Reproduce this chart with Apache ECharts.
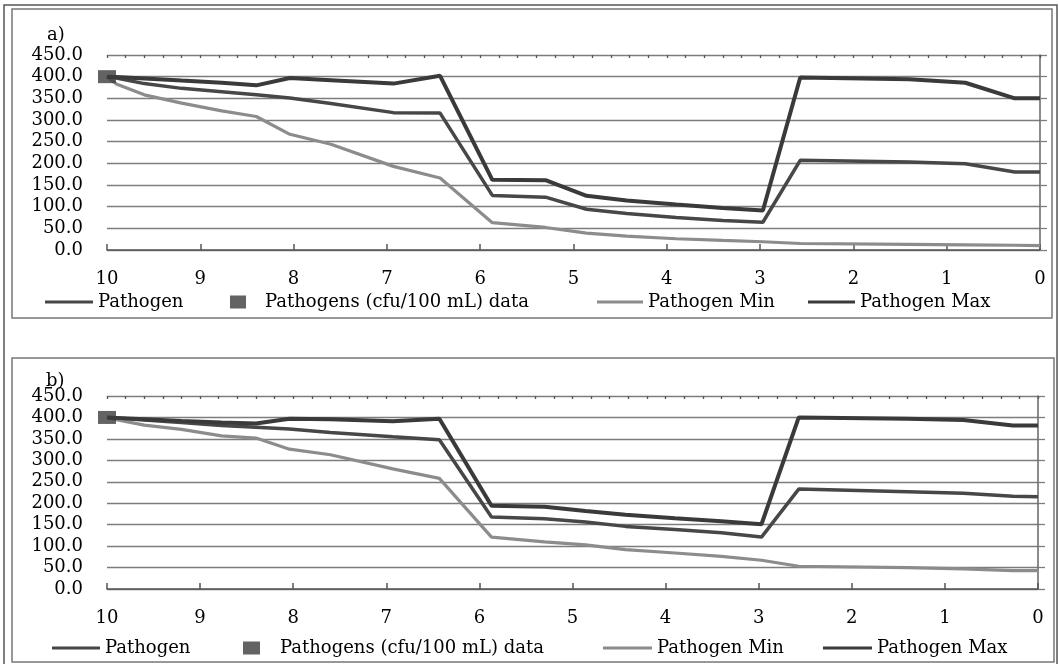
<!DOCTYPE html>
<html lang="en">
<head>
    <meta charset="UTF-8">
    <title>Pathogen a) b)</title>
    <script src="https://cdn.jsdelivr.net/npm/echarts@6/dist/echarts.min.js"></script>
    <style type="text/css">
        html, body { margin: 0; padding: 0; background: #fff; }
        #main { width: 1059px; height: 664px; }
    </style>
</head>
<body>
<div id="main"></div>
<script>
    // distance axis, shared by both panels
    var dist = [10, 9.9, 9.6, 9.2, 8.77, 8.4, 8.04, 7.6, 6.93, 6.43, 5.87, 5.3, 4.86, 4.43, 3.9, 3.4, 2.97, 2.57, 1.4, 0.8, 0.27, 0];

    // panel a)
    var pathA = [400, 397, 384, 373, 365, 358, 351, 338, 317, 316, 126, 122, 94, 84, 75, 68, 64, 207, 203, 199, 180, 180];
    var minA  = [400, 383, 358, 339, 321, 308, 267, 244, 193, 166, 63, 52, 39, 32, 26, 22, 19, 15, 13, 12, 11, 10];
    var maxA  = [400, 399, 396, 391, 386, 380, 397, 392, 384, 402, 162, 161, 125, 114, 105, 97, 91, 398, 394, 386, 350, 350];

    // panel b)
    var pathB = [400, 399, 394, 388, 381, 377, 373, 365, 355, 348, 168, 164, 156, 146, 139, 131, 121, 233, 227, 223, 216, 215];
    var minB  = [400, 395, 382, 372, 357, 352, 326, 313, 280, 258, 121, 110, 103, 92, 84, 76, 67, 53, 50, 47, 43, 43];
    var maxB  = [400, 399, 396, 392, 388, 386, 397, 396, 391, 397, 194, 192, 182, 173, 165, 158, 151, 400, 397, 394, 381, 381];

    // measured point
    var obsX = 10;
    var obsY = 400;

    var names = ['Pathogen', 'Pathogens (cfu/100 mL) data', 'Pathogen Min', 'Pathogen Max'];
    var FONT = 'DejaVu Serif';

    function pairs(xs, ys) {
        var out = [];
        for (var i = 0; i < xs.length; i++) {
            out.push([xs[i], ys[i]]);
        }
        return out;
    }

    function lineSeries(name, idx, data, color, width, z) {
        return {
            name: name, type: 'line', xAxisIndex: idx * 2, yAxisIndex: idx * 2,
            data: data, symbol: 'none', z: z, animation: false,
            lineStyle: {color: color, width: width}, itemStyle: {color: color}
        };
    }

    // main x axis: labels + major ticks pointing up
    function xAx(idx) {
        return {
            type: 'value', gridIndex: idx, inverse: true, min: 0, max: 10, interval: 1,
            axisLine: {show: true, onZero: false, lineStyle: {color: '#555', width: 1.5}},
            axisTick: {show: true, inside: true, length: 6, lineStyle: {color: '#555', width: 1.5}},
            splitLine: {show: false},
            axisLabel: {margin: 20, fontFamily: FONT, fontSize: 18, color: '#000'}
        };
    }

    // helper x axis only for the small 0.2 ticks
    function xMinor(idx) {
        return {
            type: 'value', gridIndex: idx, inverse: true, min: 0, max: 10, interval: 0.2,
            axisLine: {show: false, onZero: false},
            axisTick: {show: true, inside: true, length: 3, lineStyle: {color: '#555', width: 1.3}},
            splitLine: {show: false}, axisLabel: {show: false}
        };
    }

    function yAxLeft(idx) {
        return {
            type: 'value', gridIndex: idx, min: 0, max: 450, interval: 50,
            axisLine: {show: false}, axisTick: {show: false},
            splitLine: {show: true, lineStyle: {color: '#7d7d7d', width: 1.3}},
            axisLabel: {margin: 24, fontFamily: FONT, fontSize: 18, color: '#000',
                formatter: function (v) { return v.toFixed(1); }}
        };
    }

    function yAxRight(idx) {
        return {
            type: 'value', gridIndex: idx, position: 'right', min: 0, max: 450, interval: 50,
            axisLine: {show: true, lineStyle: {color: '#666', width: 1.5}},
            axisTick: {show: true, inside: false, length: 7, lineStyle: {color: '#7d7d7d', width: 1.3}},
            splitLine: {show: false}, axisLabel: {show: false}
        };
    }

    function legendItem(name, left, top, icon, w, h, pad) {
        return {
            data: [{name: name, icon: icon}], left: left, top: top, padding: 0,
            itemWidth: w, itemHeight: h, selectedMode: false,
            textStyle: {fontFamily: FONT, fontSize: 18, color: '#000', padding: [0, 0, 0, pad]}
        };
    }

    var chart = echarts.init(document.getElementById('main'));

    var option = {
        backgroundColor: '#fff',
        animation: false,
        grid: [
            {left: 107, right: 19, top: 55, height: 195},
            {left: 107, right: 21, top: 396, height: 193}
        ],
        xAxis: [xAx(0), xMinor(0), xAx(1), xMinor(1)],
        yAxis: [yAxLeft(0), yAxRight(0), yAxLeft(1), yAxRight(1)],
        legend: [
            legendItem(names[0], 45, 293, 'rect', 48, 3, 0),
            legendItem(names[1], 230, 293, 'rect', 16, 13, 14),
            legendItem(names[2], 597, 293, 'rect', 46, 3, 0),
            legendItem(names[3], 808, 293, 'rect', 47, 3, 0),
            legendItem(names[0], 52, 639, 'rect', 48, 3, 0),
            legendItem(names[1], 243, 639, 'rect', 17, 13, 15),
            legendItem(names[2], 603, 639, 'rect', 49, 3, 0),
            legendItem(names[3], 823, 639, 'rect', 49, 3, 0)
        ],
        graphic: [
            // page frame and the two panel boxes
            {type: 'rect', shape: {x: 4, y: 5, width: 1053, height: 665}, style: {fill: 'none', stroke: '#555', lineWidth: 1.5}, silent: true},
            {type: 'rect', shape: {x: 12, y: 9, width: 1040, height: 309}, style: {fill: 'none', stroke: '#777', lineWidth: 1.5}, silent: true},
            {type: 'rect', shape: {x: 12, y: 358, width: 1042, height: 304}, style: {fill: 'none', stroke: '#777', lineWidth: 1.5}, silent: true},
            {type: 'text', left: 47, top: 26, style: {text: 'a)', font: '18px "DejaVu Serif"', fill: '#000'}},
            {type: 'text', left: 46, top: 372, style: {text: 'b)', font: '18px "DejaVu Serif"', fill: '#000'}}
        ],
        series: [
            lineSeries(names[0], 0, pairs(dist, pathA), '#474747', 3.5, 3),
            {name: names[1], type: 'scatter', xAxisIndex: 0, yAxisIndex: 0, clip: false, z: 6,
                data: [[obsX, obsY]], symbol: 'rect', symbolSize: [18, 13], itemStyle: {color: '#3c3c3c'}},
            lineSeries(names[2], 0, pairs(dist, minA), '#8c8c8c', 3.2, 2),
            lineSeries(names[3], 0, pairs(dist, maxA), '#3a3a3a', 4, 4),

            lineSeries(names[0], 1, pairs(dist, pathB), '#474747', 3.5, 3),
            {name: names[1], type: 'scatter', xAxisIndex: 2, yAxisIndex: 2, clip: false, z: 6,
                data: [[obsX, obsY]], symbol: 'rect', symbolSize: [18, 13], itemStyle: {color: '#3c3c3c'}},
            lineSeries(names[2], 1, pairs(dist, minB), '#8c8c8c', 3.2, 2),
            lineSeries(names[3], 1, pairs(dist, maxB), '#3a3a3a', 4, 4)
        ]
    };

    chart.setOption(option);
</script>
</body>
</html>
